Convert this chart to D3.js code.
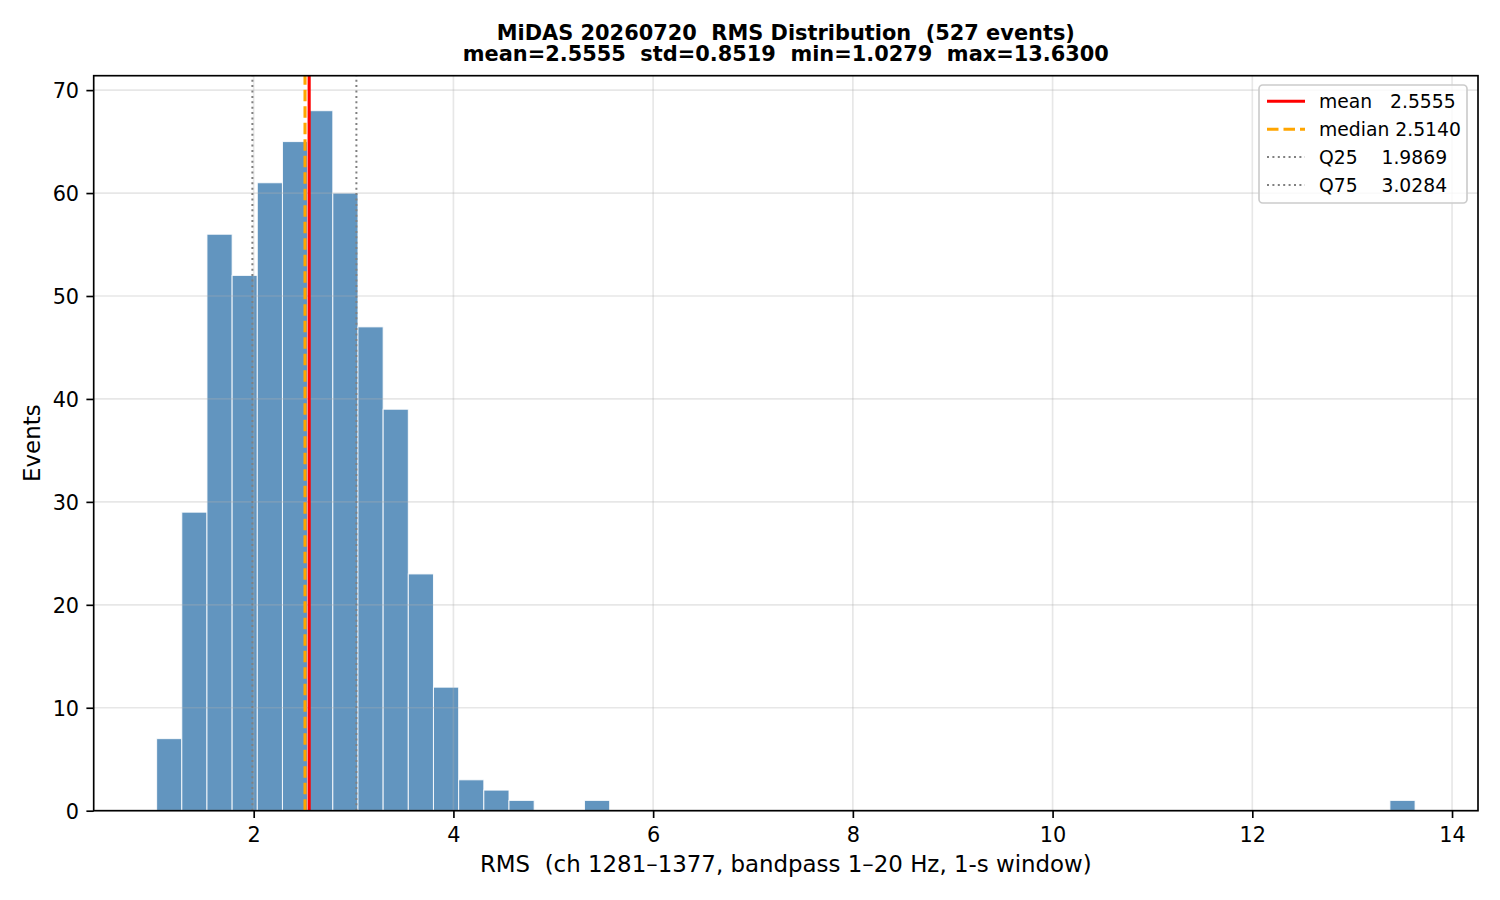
<!DOCTYPE html>
<html>
<head>
<meta charset="utf-8">
<script src="https://cdn.jsdelivr.net/npm/d3@7/dist/d3.min.js"></script>
<style>
  html, body { margin: 0; padding: 0; background: #fff; }
  svg { display: block; font-family: "DejaVu Sans", sans-serif; }
  text { white-space: pre; }
</style>
</head>
<body>
<svg id="chart" width="1500" height="900"></svg>
<script>
// ---- data ----
const titleLines = [
  "MiDAS 20260720  RMS Distribution  (527 events)",
  "mean=2.5555  std=0.8519  min=1.0279  max=13.6300"
];
const xLabel = "RMS  (ch 1281\u20131377, bandpass 1\u201320 Hz, 1-s window)";
const yLabel = "Events";
const rmsMin = 1.0279;
const rmsMax = 13.6300;
const nBins = 50;
const binCounts = [
  7, 29, 56, 52, 61, 65, 68, 60, 47, 39,
  23, 12, 3, 2, 1, 0, 0, 1, 0, 0,
  0, 0, 0, 0, 0, 0, 0, 0, 0, 0,
  0, 0, 0, 0, 0, 0, 0, 0, 0, 0,
  0, 0, 0, 0, 0, 0, 0, 0, 0, 1
];
const xTicks = [2, 4, 6, 8, 10, 12, 14];
const yTicks = [0, 10, 20, 30, 40, 50, 60, 70];
const refLines = [
  { key: "mean",   label: "mean   2.5555", value: 2.5555 },
  { key: "median", label: "median 2.5140", value: 2.5140 },
  { key: "q25",    label: "Q25    1.9869", value: 1.9869 },
  { key: "q75",    label: "Q75    3.0284", value: 3.0284 }
];

// ---- styles ----
const lineStyle = {
  mean:   { color: "#ff0000", width: 3.1, dash: null },
  median: { color: "#ffa500", width: 3.1, dash: "11.5,5" },
  q25:    { color: "#808080", width: 2.0, dash: "2,3.4" },
  q75:    { color: "#808080", width: 2.0, dash: "2,3.4" }
};

// ---- layout ----
const plot = { left: 93.7, right: 1478, top: 75.7, bottom: 810.7 };
const svg = d3.select("#chart");

const binW = (rmsMax - rmsMin) / nBins;
const bins = binCounts.map((c, i) => ({ x0: rmsMin + i * binW, x1: rmsMin + (i + 1) * binW, count: c }));

const span = rmsMax - rmsMin;
const x = d3.scaleLinear().domain([rmsMin - 0.05 * span, rmsMax + 0.05 * span]).range([plot.left, plot.right]);
const yMax = d3.max(binCounts) * 1.05;
const y = d3.scaleLinear().domain([0, yMax]).range([plot.bottom, plot.top]);

// bars
svg.append("g").selectAll("rect")
  .data(bins.filter(b => b.count > 0))
  .join("rect")
  .attr("x", d => x(d.x0))
  .attr("y", d => y(d.count))
  .attr("width", d => x(d.x1) - x(d.x0))
  .attr("height", d => y(0) - y(d.count))
  .attr("fill", "#4682b4")
  .attr("fill-opacity", 0.85)
  .attr("stroke", "#ffffff")
  .attr("stroke-opacity", 0.85)
  .attr("stroke-width", 1.04);

// grid (above bars)
const grid = svg.append("g").attr("stroke", "#b0b0b0").attr("stroke-opacity", 0.3).attr("stroke-width", 1.67);
grid.selectAll("line.gx").data(xTicks).join("line")
  .attr("x1", d => x(d)).attr("x2", d => x(d)).attr("y1", plot.top).attr("y2", plot.bottom);
grid.selectAll("line.gy").data(yTicks).join("line")
  .attr("y1", d => y(d)).attr("y2", d => y(d)).attr("x1", plot.left).attr("x2", plot.right);

// vertical reference lines
svg.append("g").selectAll("line")
  .data([refLines[2], refLines[3], refLines[1], refLines[0]])
  .join("line")
  .attr("x1", d => x(d.value)).attr("x2", d => x(d.value))
  .attr("y1", plot.bottom).attr("y2", plot.top)
  .attr("stroke", d => lineStyle[d.key].color)
  .attr("stroke-width", d => lineStyle[d.key].width)
  .attr("stroke-dasharray", d => lineStyle[d.key].dash);

// axes
const xAxis = d3.axisBottom(x).tickValues(xTicks).tickSize(7.3).tickPadding(7.3).tickFormat(d3.format("d"));
const yAxis = d3.axisLeft(y).tickValues(yTicks).tickSize(7.3).tickPadding(7.3).tickFormat(d3.format("d"));

const gx = svg.append("g").attr("transform", `translate(0,${plot.bottom})`).call(xAxis);
const gy = svg.append("g").attr("transform", `translate(${plot.left},0)`).call(yAxis);
[gx, gy].forEach(g => {
  g.select(".domain").remove();
  g.selectAll(".tick line").attr("stroke", "#000").attr("stroke-width", 1.67);
  g.selectAll(".tick text").attr("fill", "#000")
    .style("font-family", "'DejaVu Sans', sans-serif").style("font-size", "20.8px");
});
gx.selectAll(".tick text").attr("dy", null).attr("y", 31.5);
gy.selectAll(".tick text").attr("dy", "0.36em");

// spines
svg.append("rect")
  .attr("x", plot.left).attr("y", plot.top)
  .attr("width", plot.right - plot.left).attr("height", plot.bottom - plot.top)
  .attr("fill", "none").attr("stroke", "#000").attr("stroke-width", 1.67);

// labels
svg.append("text")
  .attr("x", (plot.left + plot.right) / 2).attr("y", 871.5)
  .attr("text-anchor", "middle").style("font-size", "22.9px").text(xLabel);
svg.append("text")
  .attr("transform", `translate(40,${(plot.top + plot.bottom) / 2}) rotate(-90)`)
  .attr("text-anchor", "middle").style("font-size", "22.9px").text(yLabel);

// title
svg.append("g").selectAll("text").data(titleLines).join("text")
  .attr("x", (plot.left + plot.right) / 2)
  .attr("y", (d, i) => 39.5 + i * 21.5)
  .attr("text-anchor", "middle")
  .style("font-size", "20.9px").style("font-weight", "bold")
  .text(d => d);

// legend
const leg = { x: 1259, y: 85, w: 208, h: 118 };
const lg = svg.append("g");
lg.append("rect")
  .attr("x", leg.x).attr("y", leg.y).attr("width", leg.w).attr("height", leg.h)
  .attr("rx", 3.75).attr("ry", 3.75)
  .attr("fill", "#fff").attr("fill-opacity", 0.8)
  .attr("stroke", "#cccccc").attr("stroke-width", 1.67);
const rowY = d3.scalePoint().domain(refLines.map(d => d.key)).range([leg.y + 16.3, leg.y + 100]);
const rows = lg.selectAll("g.row").data(refLines).join("g")
  .attr("transform", d => `translate(0,${rowY(d.key)})`);
rows.append("line")
  .attr("x1", leg.x + 8).attr("x2", leg.x + 46)
  .attr("y1", 0).attr("y2", 0)
  .attr("stroke", d => lineStyle[d.key].color)
  .attr("stroke-width", d => lineStyle[d.key].width)
  .attr("stroke-dasharray", d => lineStyle[d.key].dash);
rows.append("text")
  .attr("x", leg.x + 60).attr("y", 0).attr("dy", "0.36em")
  .style("font-size", "18.75px").text(d => d.label);
</script>
</body>
</html>
